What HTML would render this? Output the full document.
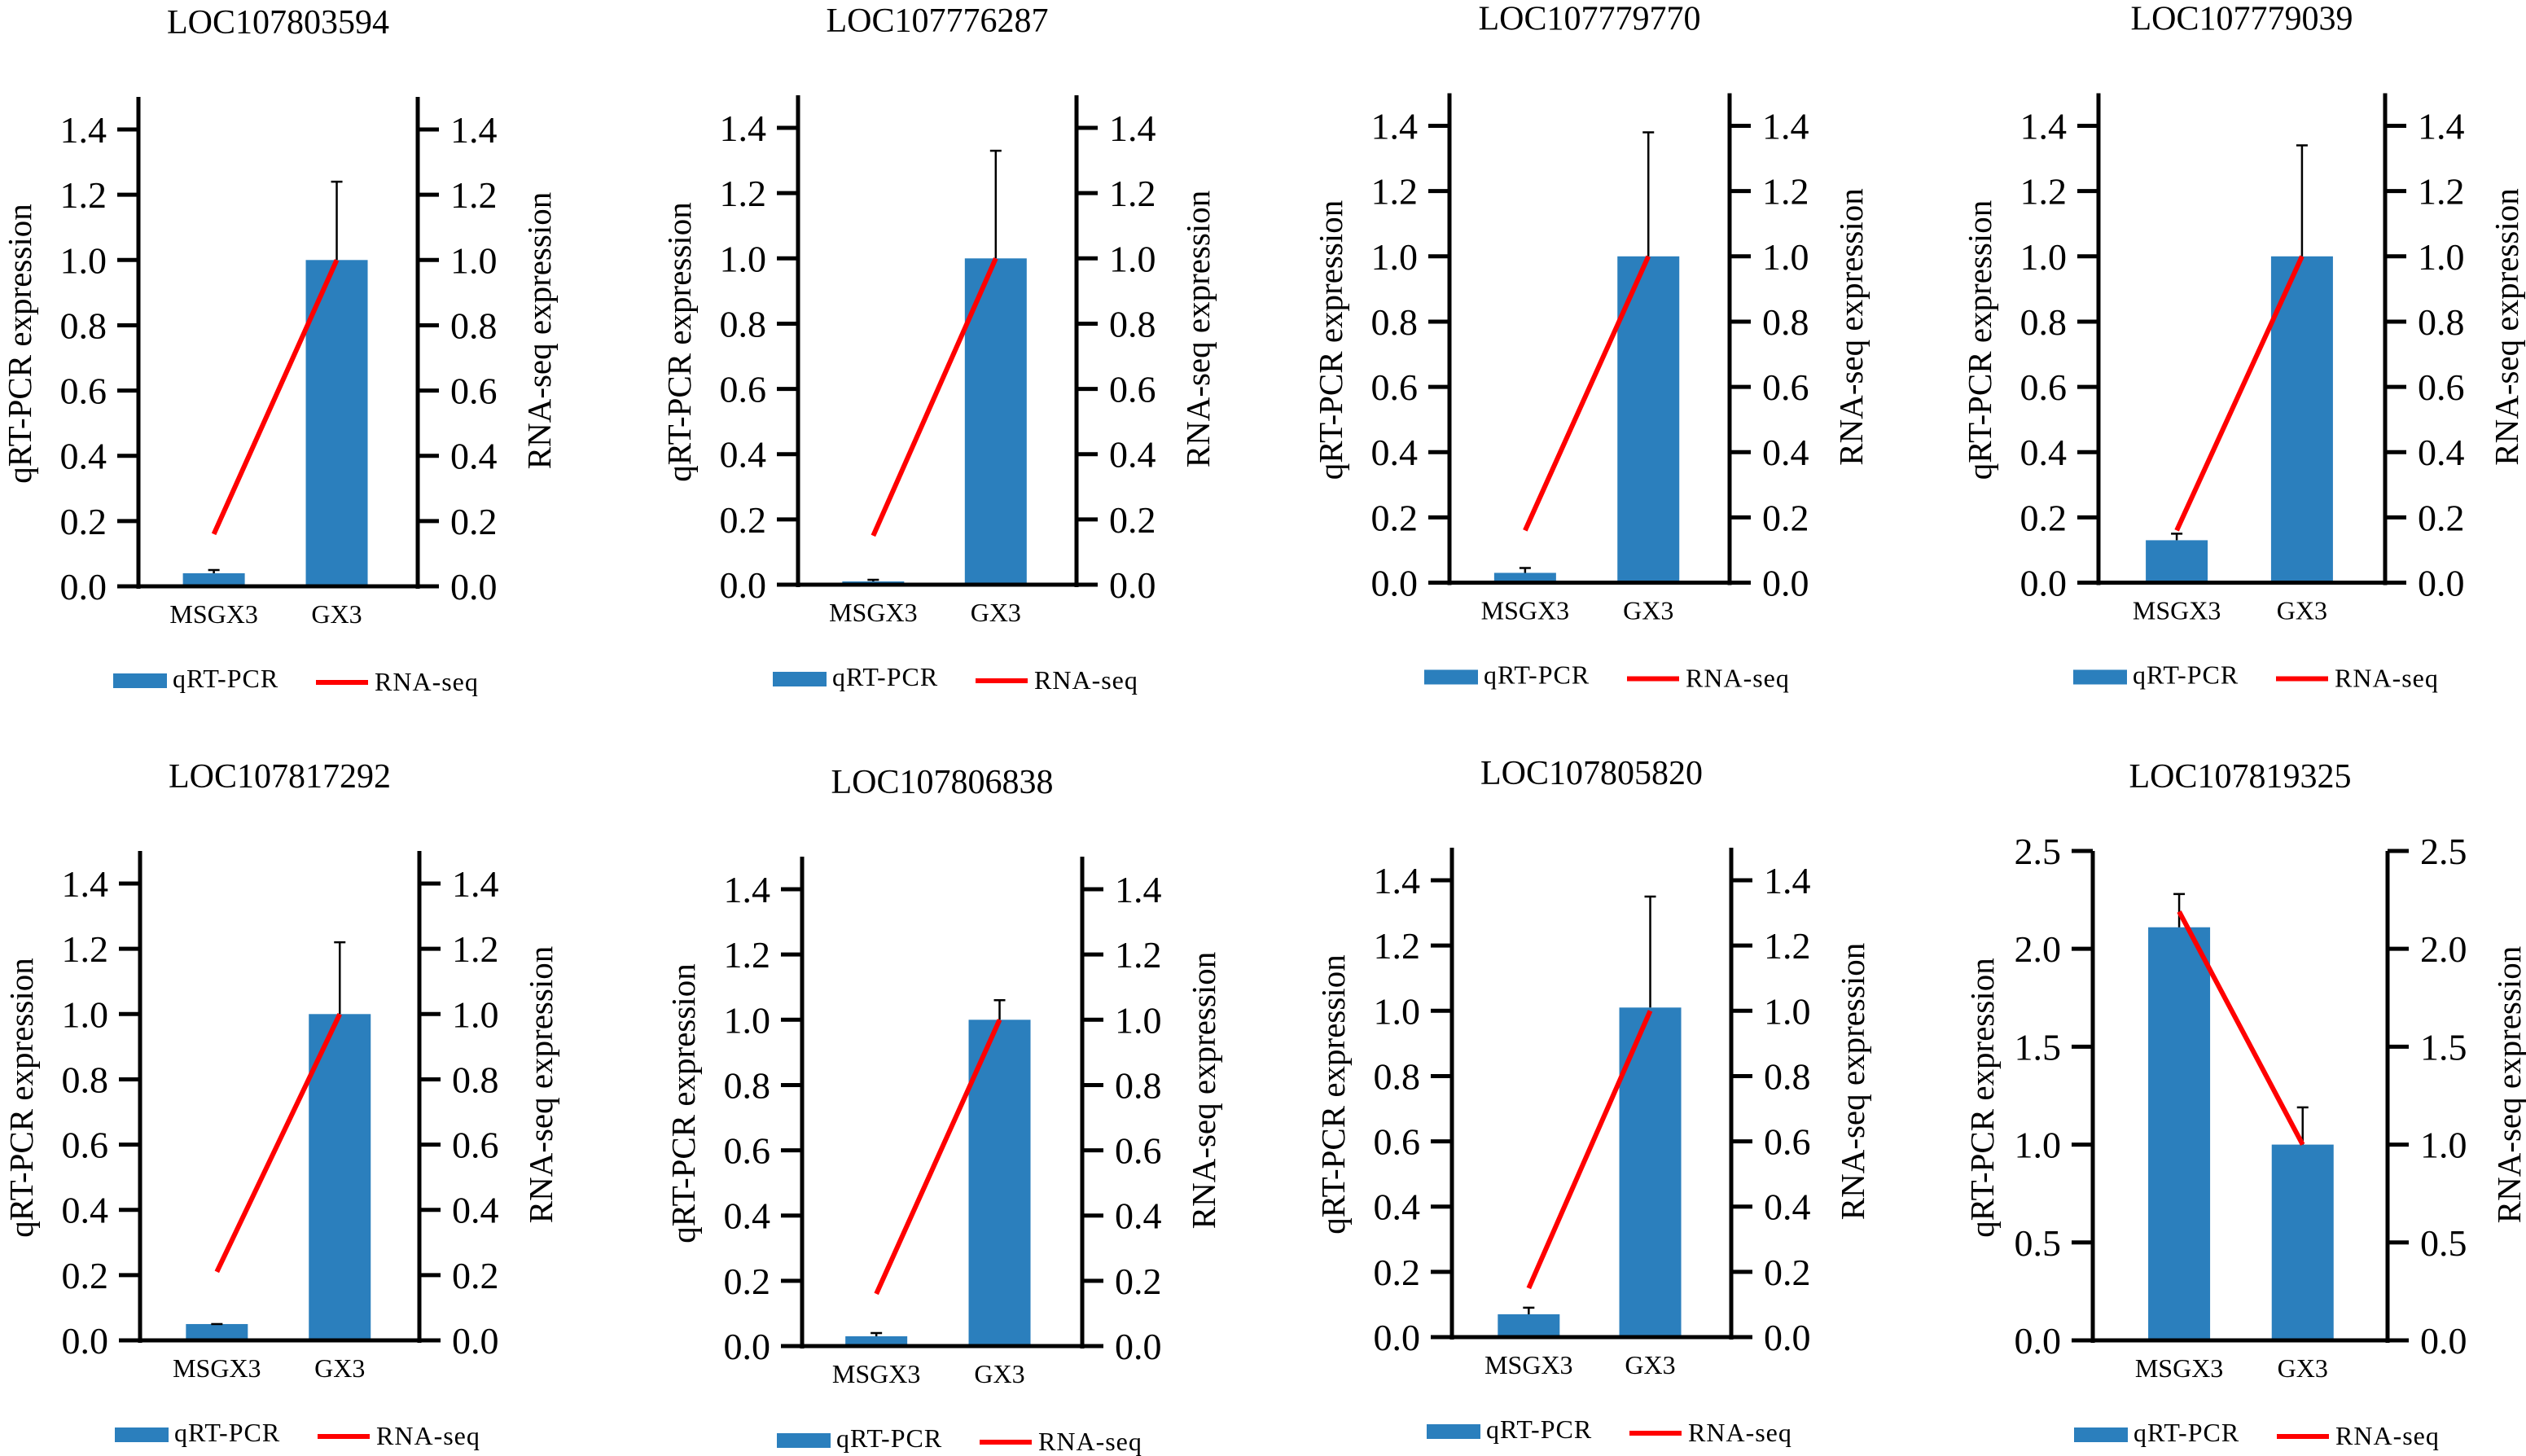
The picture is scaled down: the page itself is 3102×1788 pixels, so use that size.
<!DOCTYPE html>
<html><head><meta charset="utf-8"><style>
html,body{margin:0;padding:0;background:#fff;font-family:"Liberation Serif","DejaVu Serif",serif;}
svg{display:block;}
svg text{font-family:"Liberation Serif","DejaVu Serif",serif;}
</style></head>
<body>
<svg id="fig" width="3102" height="1788" viewBox="0 0 3102 1788" xmlns="http://www.w3.org/2000/svg" font-family="Liberation Serif, DejaVu Serif, serif"></svg>
<script>
const geneTitles = ["LOC107803594","LOC107776287","LOC107779770","LOC107779039","LOC107817292","LOC107806838","LOC107805820","LOC107819325"];
const categories = ["MSGX3","GX3"];
const qpcrValues = [[0.04,1.0],[0.01,1.0],[0.03,1.0],[0.13,1.0],[0.05,1.0],[0.03,1.0],[0.07,1.01],[2.11,1.0]];
const qpcrErrTops = [[0.05,1.24],[0.015,1.33],[0.045,1.38],[0.15,1.34],[0.05,1.22],[0.04,1.06],[0.09,1.35],[2.28,1.19]];
const rnaValues = [[0.16,1.0],[0.15,1.0],[0.16,1.0],[0.16,1.0],[0.21,1.0],[0.16,1.0],[0.15,1.0],[2.19,1.0]];
const yMaxes = [1.5,1.5,1.5,1.5,1.5,1.5,1.5,2.5];
const tickSteps = [0.2,0.2,0.2,0.2,0.2,0.2,0.2,0.5];
const tickMaxes = [1.4,1.4,1.4,1.4,1.4,1.4,1.4,2.5];

// layout (pixel geometry, not data)
const layout = [
  {L:170,R:513,Z:720,f:[0.27,0.71],lg:0},
  {L:980,R:1322,Z:718,f:[0.27,0.71],lg:0},
  {L:1780,R:2124,Z:715.5,f:[0.27,0.71],lg:0},
  {L:2577,R:2929,Z:715.5,f:[0.273,0.71],lg:0},
  {L:172,R:515,Z:1646,f:[0.275,0.715],lg:0},
  {L:985,R:1329,Z:1653,f:[0.265,0.705],lg:0},
  {L:1783,R:2126,Z:1642,f:[0.275,0.71],lg:0},
  {L:2570,R:2932,Z:1646,f:[0.293,0.712],lg:8}
];
const FONT = '"Liberation Serif", "DejaVu Serif", serif';
const PX_PER_UNIT_15 = 400.7;
const NS = "http://www.w3.org/2000/svg";
const svg = document.getElementById("fig");
function mk(tag, attrs, parent){
  const e = document.createElementNS(NS, tag);
  for (const k in attrs) e.setAttribute(k, attrs[k]);
  if (tag === "text") e.style.fontFamily = FONT;
  (parent||svg).appendChild(e);
  return e;
}
geneTitles.forEach((title, i) => {
  const g = mk("g", {});
  
  
  const p = layout[i];
  const yMax = yMaxes[i];
  const plotH = PX_PER_UNIT_15 * 1.5;
  const yScale = v => p.Z - v / yMax * plotH;
  const xCat = j => p.L + p.f[j] * (p.R - p.L);
  const top = yScale(yMax);
  const mid = (p.L + p.R) / 2;

  const t = mk("text", {x: mid, y: p.Z - 679, "text-anchor": "middle", "font-size": 42, fill: "#000"}, g);
  t.textContent = title;
  
  

  categories.forEach((c, j) => {
    const cx = xCat(j);
    const b = mk("rect", {x: cx - 38, y: yScale(qpcrValues[i][j]), width: 76, height: p.Z - yScale(qpcrValues[i][j]), fill: "#2b7fbd"}, g);
    
    
    const ey = yScale(qpcrErrTops[i][j]);
    const eb = mk("path", {d: `M${cx} ${yScale(qpcrValues[i][j])}V${ey}M${cx-7} ${ey}H${cx+7}`, stroke: "#000", "stroke-width": 2.5, fill: "none"}, g);
    
    
    const xl = mk("text", {x: cx, y: p.Z + 45, "text-anchor": "middle", "font-size": 32, fill: "#000"}, g);
    xl.textContent = c;
    
    
  });

  const ax = mk("path", {d: `M${p.L} ${top}V${p.Z+3}M${p.R} ${top}V${p.Z+3}M${p.L-26} ${p.Z}H${p.R+26}`, stroke: "#000", "stroke-width": 5, fill: "none"}, g);
  
  
  const nT = Math.round(tickMaxes[i] / tickSteps[i]);
  for (let k = 0; k <= nT; k++) {
    const v = k * tickSteps[i];
    const y = yScale(v);
    const tk = mk("path", {d: `M${p.L-26} ${y}H${p.L}M${p.R} ${y}H${p.R+26}`, stroke: "#000", "stroke-width": 5}, g);
    
    
    const lt = mk("text", {x: p.L - 39, y: y + 16, "text-anchor": "end", "font-size": 46, fill: "#000"}, g);
    lt.textContent = v.toFixed(1);
    
    
    const rt = mk("text", {x: p.R + 40, y: y + 16, "text-anchor": "start", "font-size": 46, fill: "#000"}, g);
    rt.textContent = v.toFixed(1);
    
    
  }

  const ln = mk("polyline", {points: categories.map((c, j) => `${xCat(j)},${yScale(rnaValues[i][j])}`).join(" "), stroke: "#ff0000", "stroke-width": 6, fill: "none"}, g);
  
  

  const lx = p.L - (i === 7 ? 136 : 146), ly = p.Z - 298;
  const yl = mk("text", {x: lx, y: ly, transform: `rotate(-90 ${lx} ${ly})`, "text-anchor": "middle", "dominant-baseline": "central", "font-size": 41, fill: "#000"}, g);
  yl.textContent = "qRT-PCR expression";
  
  
  const rx = p.R + 149, ry = p.Z - 314;
  const yr = mk("text", {x: rx, y: ry, transform: `rotate(-90 ${rx} ${ry})`, "text-anchor": "middle", "dominant-baseline": "central", "font-size": 41, fill: "#000"}, g);
  yr.textContent = "RNA-seq expression";
  
  

  const ly2 = p.Z + 116, lx0 = p.L + p.lg;
  const lgG = mk("g", {}, g);
  
  
  const sw = mk("rect", {x: lx0 - 31, y: ly2 - 9, width: 66, height: 18, fill: "#2b7fbd"}, lgG);
  
  
  const t1 = mk("text", {x: lx0 + 42, y: ly2 + 8, "font-size": 32, fill: "#000", "letter-spacing": 1}, lgG);
  t1.textContent = "qRT-PCR";
  
  
  const rl = mk("line", {x1: lx0 + 218, x2: lx0 + 282, y1: ly2 + 2, y2: ly2 + 2, stroke: "#ff0000", "stroke-width": 6}, lgG);
  
  
  const t2 = mk("text", {x: lx0 + 290, y: ly2 + 12, "font-size": 32, fill: "#000", "letter-spacing": 1}, lgG);
  t2.textContent = "RNA-seq";
  
  
});
</script>
</body></html>
